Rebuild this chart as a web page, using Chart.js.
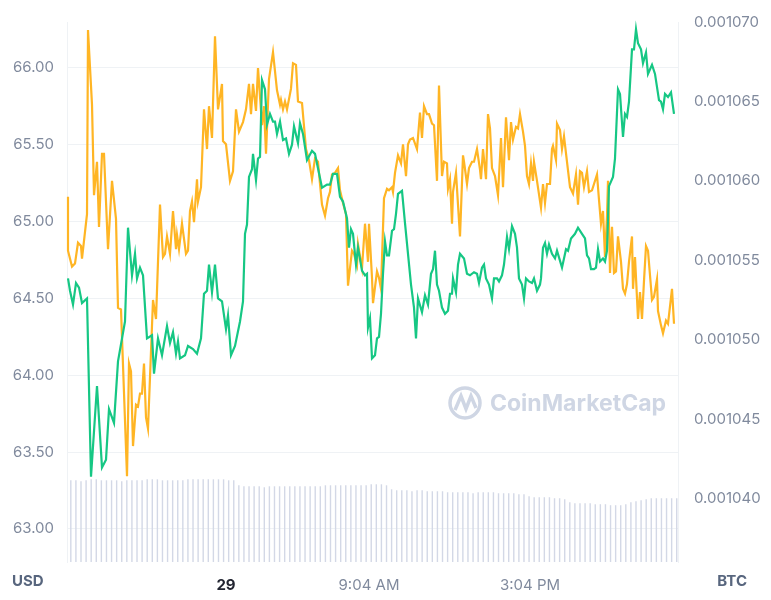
<!DOCTYPE html>
<html>
<head>
<meta charset="utf-8">
<script src="https://cdn.jsdelivr.net/npm/chart.js@4.4.0/dist/chart.umd.min.js"></script>
<style>
  html, body { margin: 0; padding: 0; background: #fff; }
  #wrap { width: 771px; height: 600px; }
</style>
</head>
<body>
<div id="wrap"><canvas id="myChart" width="771" height="600"></canvas></div>
<script>
// time positions (chart steps) and USD price
const usdTimes = [68,70,73,76,79,82,87,91,97,102,106,109,114,118,125,128,132,135,137,140,143,147,152,154,158,162,167,170,173,176,178,180,185,188,193,197,201,204,207,209,212,215,218,222,226,228,231,235,240,243,245,247,249,252,253,256,258,260,262,265,267,270,273,275,277,280,283,286,289,292,294,298,300,303,307,312,315,322,327,330,333,337,340,343,347,349,351,353,356,358,362,365,367,368,370,372,375,377,379,381,383,385,387,389,392,394,396,398,402,405,408,411,414,416,418,422,425,428,431,433,435,437,439,442,445,448,450,452,453,456,458,460,464,467,470,474,477,479,482,484,486,489,492,494,497,499,502,504,507,509,512,515,517,519,522,524,526,529,532,534,537,540,541,543,545,547,549,552,555,557,562,566,568,571,575,578,582,585,587,589,591,594,596,598,600,603,605,607,609,613,615,618,620,623,625,627,629,632,634,636,638,641,643,646,648,652,655,659,661,663,665,668,671,674];
const usdValues = [64.63,64.55,64.46,64.60,64.57,64.47,64.50,63.34,63.93,63.40,63.45,63.78,63.69,64.09,64.35,64.96,64.65,64.79,64.63,64.70,64.65,64.24,64.26,64.01,64.24,64.13,64.32,64.21,64.28,64.14,64.22,64.11,64.13,64.19,64.17,64.14,64.24,64.53,64.55,64.72,64.54,64.72,64.50,64.48,64.30,64.39,64.13,64.19,64.35,64.48,64.92,64.98,65.29,65.34,65.44,65.27,65.41,65.42,65.92,65.86,65.63,65.70,65.65,65.65,65.57,65.65,65.53,65.54,65.44,65.50,65.62,65.51,65.64,65.57,65.40,65.46,65.44,65.22,65.24,65.24,65.31,65.31,65.16,65.13,65.02,64.83,64.95,64.92,64.72,64.83,64.68,64.65,64.66,64.31,64.37,64.11,64.13,64.24,64.25,64.40,64.66,64.87,64.78,64.78,64.94,64.95,65.05,65.18,65.20,64.99,64.79,64.59,64.44,64.24,64.50,64.41,64.52,64.46,64.66,64.69,64.81,64.59,64.55,64.44,64.40,64.42,64.53,64.53,64.63,64.54,64.72,64.79,64.76,64.66,64.65,64.67,64.66,64.60,64.70,64.72,64.63,64.59,64.50,64.63,64.63,64.61,64.65,64.72,64.90,64.82,64.97,64.92,64.83,64.63,64.59,64.50,64.63,64.61,64.60,64.63,64.55,64.59,64.63,64.83,64.86,64.79,64.85,64.79,64.76,64.81,64.70,64.82,64.81,64.89,64.92,64.96,64.92,64.89,64.78,64.76,64.69,64.69,64.70,64.82,64.74,64.76,64.74,64.81,65.23,65.29,65.41,65.86,65.83,65.55,65.70,65.68,65.78,66.12,66.12,66.25,66.16,66.12,66.03,66.10,65.96,66.02,65.96,65.79,65.78,65.73,65.83,65.81,65.84,65.70];

// time positions and BTC price
const btcTimes = [68,68,72,75,78,81,82,87,88,92,94,97,99,102,104,108,112,116,118,121,127,129,131,133,136,138,140,142,144,146,148,153,156,160,163,165,167,170,173,176,177,179,182,186,188,190,192,194,197,198,201,204,207,209,212,215,218,222,223,226,230,233,236,239,243,246,249,251,253,256,258,262,264,266,269,273,277,280,281,283,285,287,291,293,296,298,302,306,309,312,315,318,320,322,325,328,330,332,335,338,340,343,346,348,352,354,357,358,362,365,368,369,372,373,377,379,381,384,387,389,392,393,395,398,401,403,406,408,410,413,417,420,422,424,427,429,432,434,437,439,442,444,447,448,450,452,453,456,460,463,464,467,469,472,474,477,480,481,483,486,488,490,492,495,498,501,503,506,509,511,513,516,518,520,523,525,527,529,531,533,534,537,541,543,545,547,550,552,553,556,557,560,562,564,567,570,573,576,578,580,582,584,587,589,592,594,597,599,601,603,605,607,608,610,612,614,616,618,621,623,625,627,629,632,633,635,638,640,642,644,646,648,652,654,657,658,661,663,666,668,672,674];
const btcValues = [0.0010590,0.0010556,0.0010546,0.0010548,0.0010561,0.0010559,0.0010551,0.0010579,0.0010695,0.0010648,0.0010591,0.0010612,0.0010571,0.0010617,0.0010617,0.0010557,0.0010600,0.0010576,0.0010520,0.0010519,0.0010414,0.0010485,0.0010480,0.0010433,0.0010459,0.0010458,0.0010466,0.0010466,0.0010485,0.0010451,0.0010444,0.0010525,0.0010513,0.0010585,0.0010552,0.0010554,0.0010565,0.0010554,0.0010581,0.0010557,0.0010566,0.0010557,0.0010573,0.0010554,0.0010556,0.0010581,0.0010587,0.0010574,0.0010601,0.0010587,0.0010596,0.0010645,0.0010620,0.0010647,0.0010627,0.0010691,0.0010645,0.0010661,0.0010625,0.0010623,0.0010600,0.0010606,0.0010645,0.0010631,0.0010637,0.0010645,0.0010661,0.0010642,0.0010661,0.0010644,0.0010671,0.0010635,0.0010647,0.0010617,0.0010664,0.0010681,0.0010657,0.0010648,0.0010651,0.0010645,0.0010650,0.0010645,0.0010658,0.0010674,0.0010673,0.0010650,0.0010649,0.0010620,0.0010613,0.0010601,0.0010614,0.0010612,0.0010598,0.0010585,0.0010578,0.0010589,0.0010593,0.0010604,0.0010605,0.0010608,0.0010594,0.0010586,0.0010579,0.0010534,0.0010556,0.0010554,0.0010547,0.0010560,0.0010545,0.0010573,0.0010549,0.0010573,0.0010539,0.0010523,0.0010543,0.0010539,0.0010532,0.0010589,0.0010595,0.0010594,0.0010596,0.0010593,0.0010605,0.0010616,0.0010611,0.0010623,0.0010603,0.0010623,0.0010626,0.0010627,0.0010620,0.0010643,0.0010627,0.0010647,0.0010642,0.0010642,0.0010636,0.0010635,0.0010600,0.0010660,0.0010603,0.0010612,0.0010611,0.0010595,0.0010601,0.0010573,0.0010593,0.0010605,0.0010565,0.0010616,0.0010612,0.0010598,0.0010608,0.0010612,0.0010612,0.0010620,0.0010607,0.0010601,0.0010620,0.0010601,0.0010642,0.0010633,0.0010608,0.0010603,0.0010591,0.0010627,0.0010596,0.0010640,0.0010613,0.0010637,0.0010626,0.0010634,0.0010633,0.0010642,0.0010631,0.0010622,0.0010603,0.0010598,0.0010611,0.0010600,0.0010612,0.0010600,0.0010583,0.0010598,0.0010586,0.0010598,0.0010598,0.0010620,0.0010622,0.0010613,0.0010636,0.0010632,0.0010620,0.0010628,0.0010612,0.0010596,0.0010592,0.0010604,0.0010585,0.0010606,0.0010605,0.0010596,0.0010606,0.0010593,0.0010594,0.0010598,0.0010604,0.0010588,0.0010573,0.0010581,0.0010552,0.0010578,0.0010600,0.0010542,0.0010571,0.0010542,0.0010543,0.0010565,0.0010549,0.0010532,0.0010529,0.0010535,0.0010549,0.0010565,0.0010532,0.0010552,0.0010513,0.0010530,0.0010513,0.0010537,0.0010559,0.0010556,0.0010525,0.0010527,0.0010538,0.0010518,0.0010509,0.0010504,0.0010512,0.0010510,0.0010532,0.0010510];

// volume bars (arbitrary units)
const volumeValues = [82,82,81,82,83,83,82,82,82,82,81,82,82,82,82,83,83,83,82,82,82,82,82,83,83,83,
  83,83,83,83,83,82,82,
  77,76,76,76,76,75,76,76,76,76,76,
  76,76,76,76,76,76,77,77,77,77,77,77,77,77,77,78,78,78,77,
  73,72,72,72,71,72,72,71,71,71,71,
  70,70,70,70,70,69,70,70,70,70,69,69,69,69,68,68,
  66,65,65,65,65,64,64,63,
  60,59,59,59,59,58,58,58,
  57,57,57,58,
  60,61,62,63,
  64,64,64,64,64,64];

// x tick positions and labels
const xTickValues = [226, 369, 530];
const xTickLabels = ["29", "9:04 AM", "3:04 PM"];
const usdTicks = [63, 63.5, 64, 64.5, 65, 65.5, 66];
const btcTicks = [0.00104, 0.001045, 0.00105, 0.001055, 0.00106, 0.001065, 0.00107];

const tickColor = "#808a9d";

const extraText = {
  id: "extraText",
  afterDraw(chart) {
    const ctx = chart.ctx;
    ctx.save();
    ctx.fillStyle = "#58667e";
    ctx.font = "bold 15px Inter, 'Noto Sans', sans-serif";
    ctx.textBaseline = "middle";
    ctx.textAlign = "left";
    ctx.fillText("USD", 12, 581);
    ctx.textAlign = "right";
    ctx.fillText("BTC", 747, 581);
    // watermark
    ctx.strokeStyle = "#cfd6e4";
    ctx.lineWidth = 3.5;
    ctx.beginPath();
    ctx.arc(465, 403, 15, 0, Math.PI * 2);
    ctx.stroke();
    ctx.beginPath();
    ctx.moveTo(455, 410);
    ctx.lineTo(461, 396);
    ctx.lineTo(466, 409);
    ctx.lineTo(471, 396);
    ctx.lineTo(476, 408);
    ctx.stroke();
    ctx.fillStyle = "#cfd6e4";
    ctx.textAlign = "left";
    ctx.font = "bold 23px Inter, 'Noto Sans', sans-serif";
    ctx.fillText("CoinMarketCap", 490, 404);
    ctx.restore();
  }
};

new Chart(document.getElementById("myChart").getContext("2d"), {
  data: {
    labels: volumeValues.map((v, i) => i),
    datasets: [
      {
        type: "line",
        data: usdTimes.map((t, i) => ({ x: t, y: usdValues[i] })),
        borderColor: "#16c784",
        borderWidth: 2.2,
        pointRadius: 0,
        tension: 0,
        clip: false,
        xAxisID: "x",
        yAxisID: "y",
        order: 1
      },
      {
        type: "line",
        data: btcTimes.map((t, i) => ({ x: t, y: btcValues[i] })),
        borderColor: "#ffb524",
        borderWidth: 2.2,
        pointRadius: 0,
        tension: 0,
        clip: false,
        xAxisID: "x",
        yAxisID: "y1",
        order: 2
      },
      {
        type: "bar",
        data: volumeValues,
        backgroundColor: "#d3d8e6",
        barPercentage: 0.55,
        categoryPercentage: 1,
        xAxisID: "xv",
        yAxisID: "yv",
        order: 3
      }
    ]
  },
  options: {
    responsive: false,
    animation: false,
    plugins: { legend: { display: false }, tooltip: { enabled: false } },
    scales: {
      x: {
        type: "linear",
        min: 67,
        max: 678,
        grid: { display: false },
        border: { display: false },
        afterBuildTicks: (axis) => { axis.ticks = xTickValues.map(v => ({ value: v })); },
        ticks: {
          color: (c) => c.index === 0 ? "#222531" : tickColor,
          font: (c) => ({ size: 15, weight: c.index === 0 ? "bold" : "normal", family: "Inter, 'Noto Sans', sans-serif" }),
          padding: 6,
          maxRotation: 0,
          callback: (v) => xTickLabels[xTickValues.indexOf(v)]
        }
      },
      xv: {
        type: "category",
        display: false,
        offset: true
      },
      y: {
        position: "left",
        min: 62.785,
        max: 66.298,
        afterBuildTicks: (axis) => { axis.ticks = usdTicks.map(v => ({ value: v })); },
        grid: { color: "#eff2f5", drawTicks: false },
        border: { display: true, color: "#eff2f5" },
        afterFit: (axis) => { axis.width = 67; },
        ticks: {
          color: tickColor,
          padding: 13,
          font: { size: 15, family: "Inter, 'Noto Sans', sans-serif" },
          callback: (v) => v.toFixed(2)
        }
      },
      y1: {
        position: "right",
        min: 0.0010360,
        max: 0.0010700,
        afterBuildTicks: (axis) => { axis.ticks = btcTicks.map(v => ({ value: v })); },
        grid: { display: false },
        border: { display: true, color: "#eff2f5" },
        afterFit: (axis) => { axis.width = 93; },
        ticks: {
          color: tickColor,
          padding: 8,
          font: { size: 15, family: "Inter, 'Noto Sans', sans-serif" },
          callback: (v) => v.toFixed(6)
        }
      },
      yv: {
        display: false,
        min: 0,
        max: 542
      }
    }
  },
  plugins: [extraText]
});
</script>
</body>
</html>
